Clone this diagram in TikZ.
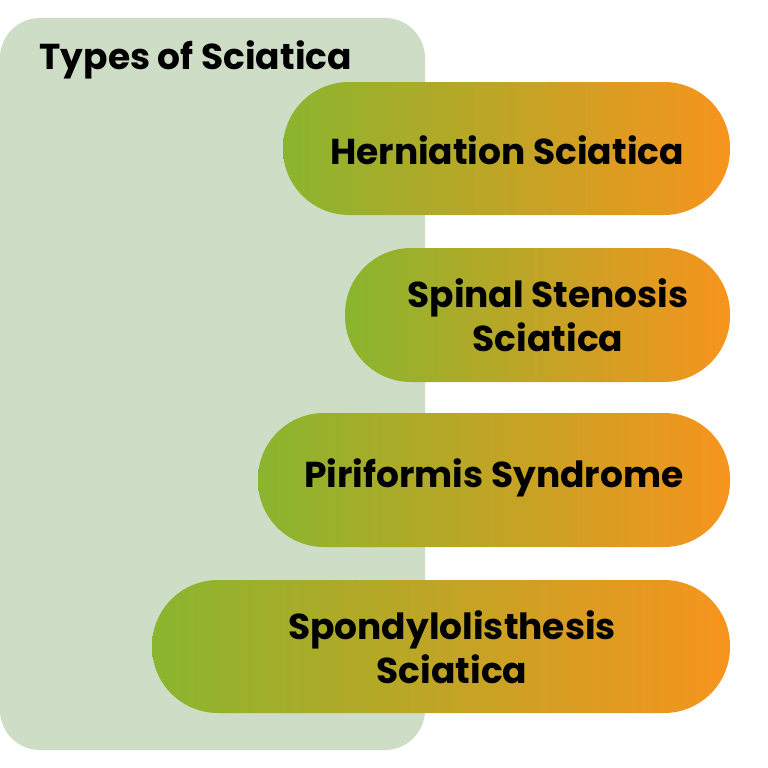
\documentclass[tikz,border=0pt]{standalone}
\usepackage{fontspec}
\setmainfont{Poppins}
\begin{document}
\begin{tikzpicture}[x=1pt,y=-1pt,
  pill/.style={rounded corners=66pt, left color=pgreen, right color=porange, draw=none},
  lbl/.style={font=\fontsize{36}{44}\selectfont\bfseries, align=center, text=black}]
\definecolor{pgreen}{HTML}{8AB52E}
\definecolor{porange}{HTML}{F7941D}
\definecolor{panel}{HTML}{CEDDC5}
\useasboundingbox (0,0) rectangle (768,768);
\fill[white] (0,0) rectangle (768,768);
\fill[panel, rounded corners=40pt] (0,18) rectangle (425,750);
\node[lbl, anchor=west] (title) at (36,60) {Types of Sciatica};
\shade[pill] (283,82) rectangle (730,215);
\node[lbl] (a) at (507,150) {Herniation Sciatica};
\shade[pill] (345,248) rectangle (730,382);
\node[lbl] (b) at (548,315) {Spinal Stenosis\\Sciatica};
\shade[pill] (258,413) rectangle (730,547);
\node[lbl] (c) at (494,478) {Piriformis Syndrome};
\shade[pill] (152,580) rectangle (730,713);
\node[lbl] (d) at (452,647) {Spondylolisthesis\\Sciatica};
\end{tikzpicture}
\end{document}
